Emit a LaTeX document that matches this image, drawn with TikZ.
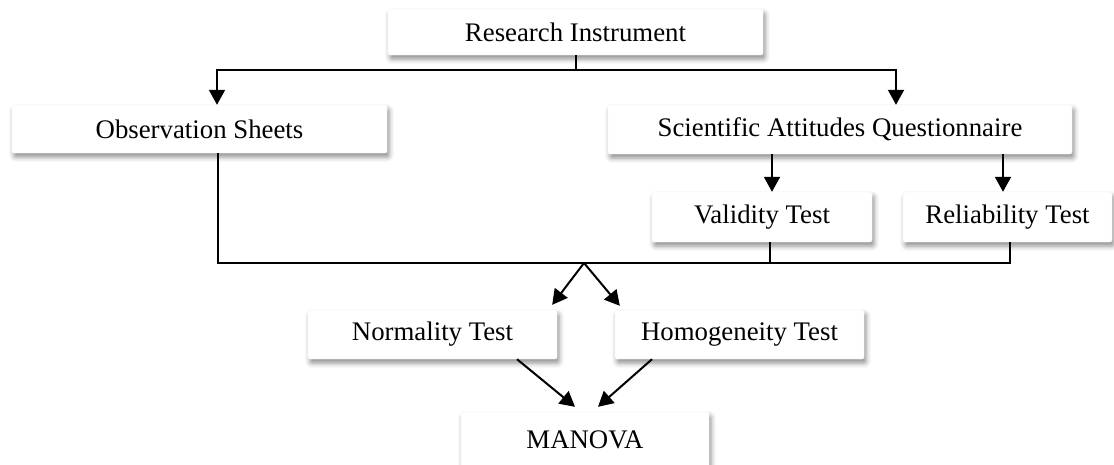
\documentclass[tikz,border=0pt]{standalone}
\usepackage{fontspec}
\setmainfont{Liberation Serif}
\usetikzlibrary{arrows.meta,shadows.blur,calc}
\begin{document}
\begin{tikzpicture}[x=1pt,y=-1pt,
  box/.style={fill=white, draw=black!4, line width=0.4pt, rounded corners=2pt, inner sep=0pt,
    blur shadow={shadow xshift=2pt, shadow yshift=-4pt, shadow blur radius=5pt, shadow opacity=45},
    font=\fontsize{26.8}{30}\selectfont},
  ln/.style={line width=2pt, draw=black},
  arr/.style={ln, -{Triangle[length=15pt,width=16pt]}}]
\useasboundingbox (0,0) rectangle (1114,464);
\begin{scope}
\clip (0,0) rectangle (1114,464);
\node[box, minimum width=375pt, minimum height=46pt] (ri) at (575.5,32) {Research Instrument};
\node[box, minimum width=375pt, minimum height=48pt] (obs) at (199.5,129) {Observation Sheets};
\node[box, minimum width=464pt, minimum height=49pt] (saq) at (840,129.5) {Scientific Attitudes Questionnaire};
\node[box, minimum width=220pt, minimum height=50pt] (val) at (762,217) {Validity Test};
\node[box, minimum width=209pt, minimum height=50pt] (rel) at (1007.5,217) {Reliability Test};
\node[box, minimum width=249pt, minimum height=49pt] (norm) at (432.5,334.5) {Normality Test};
\node[box, minimum width=249pt, minimum height=49pt] (hom) at (739.5,334.5) {Homogeneity Test};
\node[box, minimum width=248pt, minimum height=56pt] (man) at (585,440) {MANOVA};
\end{scope}
% top distribution
\coordinate (j1) at ($(ri.south)+(0,15)$);
\draw[ln] (ri.south) -- (j1);
\draw[arr] (j1) -| ([xshift=17.5pt]obs.north);
\draw[arr] (j1) -| ([xshift=56pt]saq.north);
% questionnaire to tests
\draw[arr] ([xshift=10pt]val.north |- saq.south) -- ([xshift=10pt]val.north);
\draw[arr] ([xshift=-4.5pt]rel.north |- saq.south) -- ([xshift=-4.5pt]rel.north);
% collecting line
\coordinate (j2) at (584,263);
\draw[ln] ([xshift=18.5pt]obs.south) |- (j2) -| ([xshift=2.5pt]rel.south);
\draw[ln] ([xshift=8pt]val.south) -- ([xshift=8pt]val.south |- j2);
% split
\draw[arr] (j2) -- ([xshift=-5pt,yshift=5pt]norm.north east);
\draw[arr] (j2) -- ([xshift=5pt,yshift=4pt]hom.north west);
% to MANOVA
\draw[arr] ([xshift=84.5pt]norm.south) -- ([xshift=-10pt,yshift=5pt]man.north);
\draw[arr] ([xshift=-87.5pt]hom.south) -- ([xshift=13pt,yshift=5pt]man.north);
\end{tikzpicture}
\end{document}
